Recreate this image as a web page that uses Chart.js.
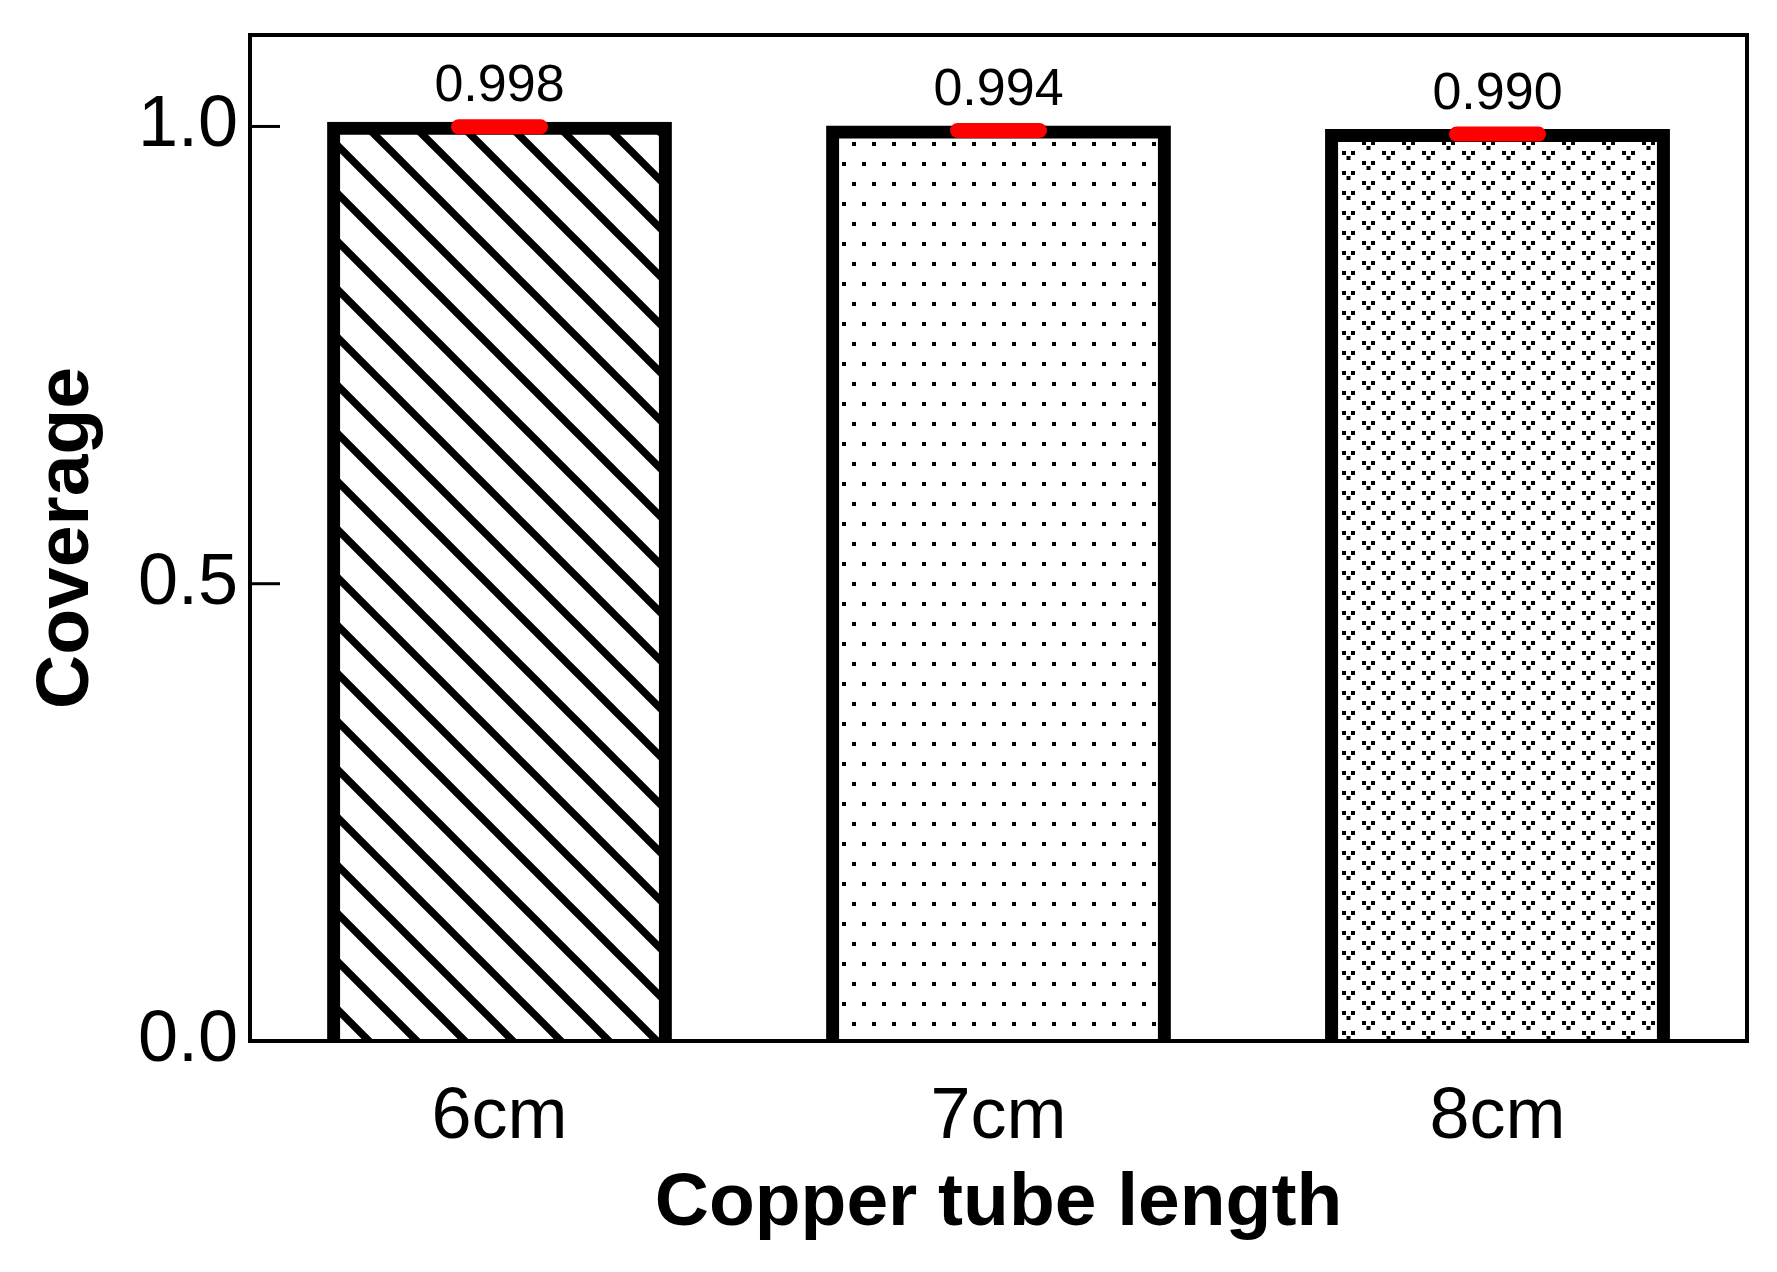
<!DOCTYPE html>
<html>
<head>
<meta charset="utf-8">
<script src="https://cdn.jsdelivr.net/npm/chart.js@4.4.1/dist/chart.umd.min.js"></script>
<style>
html,body{margin:0;padding:0;background:#fff;}
#wrap{width:1777px;height:1272px;position:relative;}
canvas{display:block;}
</style>
</head>
<body>
<div id="wrap"><canvas id="c" width="1777" height="1272"></canvas></div>
<script>
// ---- data ----
const categories = ['6cm', '7cm', '8cm'];
const coverage = [0.998, 0.994, 0.990];
const valueLabels = ['0.998', '0.994', '0.990'];
const yTickValues = [0, 0.5, 1.0];
const xTitleText = 'Copper tube length';
const yTitleText = 'Coverage';

const FONT = '"Liberation Sans", Arial, sans-serif';
const canvas = document.getElementById('c');
const mainCtx = canvas.getContext('2d');

function makePattern(kind) {
  const c = document.createElement('canvas');
  const g = c.getContext('2d');
  if (kind === 'hatch') {
    c.width = 48; c.height = 48;
    g.fillStyle = '#fff'; g.fillRect(0, 0, 48, 48);
    g.strokeStyle = '#000'; g.lineWidth = 7.5;
    g.beginPath();
    g.moveTo(-10, -10); g.lineTo(58, 58);
    g.moveTo(-10, 38); g.lineTo(10, 58);
    g.moveTo(38, -10); g.lineTo(58, 10);
    g.stroke();
  } else if (kind === 'dots') {
    c.width = 20; c.height = 40;
    g.fillStyle = '#fff'; g.fillRect(0, 0, 20, 40);
    g.fillStyle = '#000';
    g.fillRect(2, 2, 4, 4);
    g.fillRect(12, 22, 4, 4);
  } else {
    c.width = 40; c.height = 20;
    g.fillStyle = '#fff'; g.fillRect(0, 0, 40, 20);
    g.fillStyle = '#000';
    const motif = (ox, oy) => {
      g.fillRect(ox, oy, 4, 4);
      g.fillRect(ox + 9, oy, 4, 4);
      g.fillRect(ox + 4.5, oy + 5, 4, 4);
    };
    motif(2, 1);
    motif(22, 11);
  }
  return mainCtx.createPattern(c, 'repeat');
}
const patterns = [makePattern('hatch'), makePattern('dots'), makePattern('v')];

const decorPlugin = {
  id: 'decor',
  afterDatasetsDraw(chart) {
    const ctx = chart.ctx;
    const ys = chart.scales.y;
    const meta = chart.getDatasetMeta(0);
    const area = chart.chartArea;
    ctx.save();
    // red caps at the bar values
    meta.data.forEach((el, i) => {
      const y = ys.getPixelForValue(coverage[i]) - 1.5;
      ctx.strokeStyle = '#ff0000';
      ctx.lineWidth = 15;
      ctx.lineCap = 'round';
      ctx.beginPath();
      ctx.moveTo(el.x - 41, y);
      ctx.lineTo(el.x + 41, y);
      ctx.stroke();
    });
    // value labels
    ctx.fillStyle = '#000';
    ctx.font = '52px ' + FONT;
    ctx.textAlign = 'center';
    ctx.textBaseline = 'alphabetic';
    meta.data.forEach((el, i) => {
      const y = ys.getPixelForValue(coverage[i]);
      ctx.fillText(valueLabels[i], el.x, y - 27);
    });
    // frame
    ctx.lineCap = 'butt';
    ctx.strokeStyle = '#000';
    ctx.lineWidth = 4;
    ctx.strokeRect(area.left, area.top, area.right - area.left, area.bottom - area.top);
    // inward y ticks
    ctx.lineWidth = 3;
    yTickValues.forEach(v => {
      const y = ys.getPixelForValue(v);
      ctx.beginPath();
      ctx.moveTo(area.left, y);
      ctx.lineTo(area.left + 30, y);
      ctx.stroke();
    });
    ctx.restore();
  }
};

new Chart(canvas, {
  type: 'bar',
  data: {
    labels: categories,
    datasets: [{
      data: coverage,
      backgroundColor: patterns,
      borderColor: '#000',
      borderWidth: 13,
      borderSkipped: 'start',
      inflateAmount: 6.5,
      barPercentage: 0.665,
      categoryPercentage: 1.0,
      clip: {left: 40, right: 40, top: 80, bottom: 0}
    }]
  },
  options: {
    responsive: false,
    animation: false,
    events: [],
    layout: {padding: {top: 35, right: 30, bottom: 0, left: 0}},
    plugins: {legend: {display: false}, tooltip: {enabled: false}},
    scales: {
      x: {
        type: 'category',
        offset: true,
        grid: {display: false, drawTicks: false},
        border: {display: false},
        ticks: {color: '#000', font: {family: FONT, size: 72}, padding: 34},
        title: {display: true, text: xTitleText, color: '#000',
                font: {family: FONT, size: 75, weight: 'bold'},
                padding: {top: 0, bottom: 23}},
        afterFit(s) { s.height = 231; s.paddingLeft = 0; s.paddingRight = 0; }
      },
      y: {
        min: 0,
        max: 1.1,
        grid: {display: false, drawTicks: false},
        border: {display: false},
        afterBuildTicks(s) { s.ticks = yTickValues.map(v => ({value: v})); },
        ticks: {color: '#000', font: {family: FONT, size: 72}, padding: 12,
                callback: v => Number(v).toFixed(1)},
        title: {display: true, text: yTitleText, color: '#000',
                font: {family: FONT, size: 75, weight: 'bold'},
                padding: {top: 22, bottom: 0}},
        afterFit(s) { s.width = 250; s.paddingTop = 0; s.paddingBottom = 0; }
      }
    }
  },
  plugins: [decorPlugin]
});
</script>
</body>
</html>
